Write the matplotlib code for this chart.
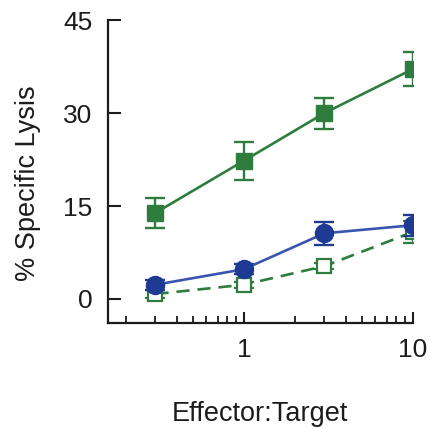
import matplotlib
matplotlib.use("Agg")
import matplotlib.pyplot as plt
from matplotlib.ticker import LogLocator, NullFormatter, FixedLocator, FixedFormatter

plt.rcParams["font.family"] = ["Liberation Sans", "DejaVu Sans"]

# effector:target ratios
ratios = [0.3, 1, 3, 10]

# filled green squares
green_filled = [13.9, 22.3, 30.0, 37.1]
green_filled_err = [2.4, 3.1, 2.5, 2.7]

# blue circles
blue = [2.3, 4.8, 10.6, 11.9]
blue_err = [0.8, 0.8, 1.9, 1.7]

# open green squares (dashed)
green_open = [0.8, 2.3, 5.3, 10.8]
green_open_err = [0.6, 0.5, 0.5, 1.8]

y_ticks = [0, 15, 30, 45]

green = "#2e7d3e"
blue_mk = "#1f3a93"
blue_ln = "#3a55b0"
ink = "#1c1c1c"

fig = plt.figure(figsize=(4.3, 4.28), dpi=100)
ax = fig.add_axes([0.251, 0.245, 0.709, 0.708])

ax.errorbar(ratios, green_open, yerr=green_open_err, color=green, ls=(0, (5, 3)),
            lw=1.9, marker="s", ms=10, mfc="white", mec=green, mew=1.6,
            capsize=7, capthick=1.7, elinewidth=1.7, zorder=2)
ax.errorbar(ratios, blue, yerr=blue_err, color=blue_ln, lw=1.9, marker="o", ms=13,
            mfc=blue_mk, mec=blue_mk, ecolor=blue_mk, capsize=7, capthick=1.7,
            elinewidth=1.7, zorder=3)
ax.errorbar(ratios, green_filled, yerr=green_filled_err, color=green, lw=1.9,
            marker="s", ms=11.5, mfc=green, mec=green, capsize=7, capthick=1.7,
            elinewidth=1.7, zorder=3)

ax.set_xscale("log")
ax.set_xlim(0.157, 10)
ax.set_ylim(-3.9, 45)

ax.xaxis.set_major_locator(FixedLocator([0.1, 1, 10]))
ax.xaxis.set_major_formatter(FixedFormatter(["", "1", "10"]))
ax.xaxis.set_minor_locator(LogLocator(base=10, subs=range(2, 10)))
ax.xaxis.set_minor_formatter(NullFormatter())
ax.set_yticks(y_ticks)

for s in ["top", "right"]:
    ax.spines[s].set_visible(False)
for s in ["left", "bottom"]:
    ax.spines[s].set_linewidth(1.6)
    ax.spines[s].set_color(ink)

ax.tick_params(axis="y", direction="in", length=9, width=1.5, labelsize=19,
               pad=11, colors=ink, labelcolor=ink)
ax.tick_params(axis="x", which="major", direction="in", length=8, width=1.5,
               labelsize=19, pad=11, colors=ink, labelcolor=ink)
ax.tick_params(axis="x", which="minor", direction="in", length=5, width=1.3,
               colors=ink)

ax.set_ylabel("% Specific Lysis", fontsize=19.5, color=ink)
ax.yaxis.set_label_coords(-0.22, 0.462)
ax.set_xlabel("Effector:Target", fontsize=19.5, labelpad=28, color=ink)

fig.savefig("out.png", dpi=100)
